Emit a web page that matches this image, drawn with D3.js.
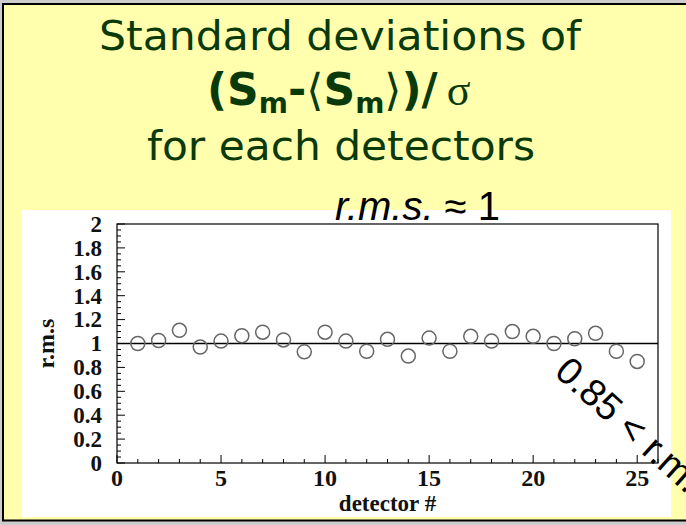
<!DOCTYPE html>
<html>
<head>
<meta charset="utf-8">
<script src="https://cdn.jsdelivr.net/npm/d3@7"></script>
<style>
  body { margin: 0; background: #cdcdcd; overflow: hidden; }
  svg { display: block; }
</style>
</head>
<body>
<svg width="686" height="525"></svg>
<script>
const detectors = d3.range(1, 26)
const rms = [1.00, 1.025, 1.11, 0.97, 1.02, 1.065, 1.095, 1.03, 0.93, 1.095,
  1.02, 0.935, 1.035, 0.895, 1.045, 0.935, 1.06, 1.02, 1.10, 1.06,
  1.00, 1.04, 1.085, 0.935, 0.85]
const xTicks = [0, 5, 10, 15, 20, 25]
const yTicks = [0, 0.2, 0.4, 0.6, 0.8, 1, 1.2, 1.4, 1.6, 1.8, 2]

const svg = d3.select('svg')
const green = '#0a3a0a'

// slide frame
svg.append('rect')
  .attr('x', 3).attr('y', 4)
  .attr('width', 700).attr('height', 516.5)
  .attr('fill', '#ffffae')
  .attr('stroke', '#000')
  .attr('stroke-width', 2)

// title lines
svg.append('text')
  .attr('x', 340).attr('y', 50)
  .attr('text-anchor', 'middle')
  .attr('font-family', 'DejaVu Sans')
  .attr('font-size', 40)
  .attr('textLength', 482)
  .attr('lengthAdjust', 'spacingAndGlyphs')
  .attr('fill', green)
  .text('Standard deviations of')

const t2 = svg.append('text')
  .attr('x', 207).attr('y', 105)
  .attr('font-family', 'DejaVu Sans')
  .attr('font-weight', 'bold')
  .attr('font-size', 44)
  .attr('fill', green)
t2.append('tspan').text('(S')
t2.append('tspan').attr('font-size', 28).attr('dy', 8).text('m')
t2.append('tspan').attr('dy', -8).text('-')
t2.append('tspan').attr('font-weight', 'normal').attr('font-family', 'DejaVu Serif').text('\u27E8')
t2.append('tspan').text('S')
t2.append('tspan').attr('font-size', 28).attr('dy', 8).text('m')
t2.append('tspan').attr('dy', -8).attr('font-weight', 'normal').attr('font-family', 'DejaVu Serif').text('\u27E9')
t2.append('tspan').text(')/')
t2.append('tspan').attr('font-weight', 'normal').attr('font-family', 'Liberation Serif').attr('dx', 9).text('\u03C3')

svg.append('text')
  .attr('x', 341).attr('y', 160)
  .attr('text-anchor', 'middle')
  .attr('font-family', 'DejaVu Sans')
  .attr('font-size', 40)
  .attr('textLength', 388)
  .attr('lengthAdjust', 'spacingAndGlyphs')
  .attr('fill', green)
  .text('for each detectors')

// white chart panel
svg.append('rect')
  .attr('x', 22).attr('y', 210)
  .attr('width', 649).attr('height', 307)
  .attr('fill', '#fff')

const margin = { top: 224, right: 28, bottom: 62, left: 117 }
const width = 686 - margin.left - margin.right
const height = 525 - margin.top - margin.bottom

const x = d3.scaleLinear().domain([0, 26]).range([margin.left, margin.left + width])
const y = d3.scaleLinear().domain([0, 2]).range([margin.top + height, margin.top])

const g = svg.append('g')

// ticks (ROOT style, inward)
const xMinor = d3.range(0, 27, 1)
g.selectAll('.xt').data(xMinor).enter().append('line')
  .attr('x1', d => x(d)).attr('x2', d => x(d))
  .attr('y1', y(0)).attr('y2', d => y(0) - (d % 5 === 0 ? 8 : 4))
  .attr('stroke', '#000').attr('stroke-width', 1)

const yMinor = d3.range(0, 2.001, 0.05)
g.selectAll('.yt').data(yMinor).enter().append('line')
  .attr('y1', d => y(d)).attr('y2', d => y(d))
  .attr('x1', x(0)).attr('x2', (d, i) => x(0) + (i % 4 === 0 ? 8 : 4))
  .attr('stroke', '#000').attr('stroke-width', 1)

// frame
g.append('rect')
  .attr('x', margin.left).attr('y', margin.top)
  .attr('width', width).attr('height', height)
  .attr('fill', 'none').attr('stroke', '#000').attr('stroke-width', 1.2)

// tick labels
g.selectAll('.xl').data(xTicks).enter().append('text')
  .attr('x', d => x(d)).attr('y', y(0) + 23)
  .attr('text-anchor', 'middle')
  .attr('font-family', 'Liberation Serif')
  .attr('font-weight', 'bold')
  .attr('font-size', 24)
  .attr('fill', '#111')
  .text(d => d)

g.selectAll('.yl').data(yTicks).enter().append('text')
  .attr('x', x(0) - 15).attr('y', d => y(d))
  .attr('dy', '0.34em')
  .attr('text-anchor', 'end')
  .attr('font-family', 'Liberation Serif')
  .attr('font-weight', 'bold')
  .attr('font-size', 23)
  .attr('fill', '#111')
  .text(d => d)

// axis titles
g.append('text')
  .attr('x', margin.left + width / 2).attr('y', 511)
  .attr('text-anchor', 'middle')
  .attr('font-family', 'Liberation Serif')
  .attr('font-weight', 'bold')
  .attr('font-size', 23)
  .attr('fill', '#111')
  .text('detector #')

g.append('text')
  .attr('transform', `translate(54,${margin.top + height / 2}) rotate(-90)`)
  .attr('text-anchor', 'middle')
  .attr('font-family', 'Liberation Serif')
  .attr('font-weight', 'bold')
  .attr('font-size', 24)
  .attr('fill', '#111')
  .text('r.m.s')

// reference line at 1
g.append('line')
  .attr('x1', x(0)).attr('x2', x(26))
  .attr('y1', y(1)).attr('y2', y(1))
  .attr('stroke', '#000').attr('stroke-width', 1.3)

// markers
g.selectAll('circle').data(detectors).enter().append('circle')
  .attr('cx', d => x(d))
  .attr('cy', (d, i) => y(rms[i]))
  .attr('r', 7)
  .attr('fill', 'none')
  .attr('stroke', '#666')
  .attr('stroke-width', 1.5)

// annotations
const ann = svg.append('text')
  .attr('x', 335).attr('y', 220)
  .attr('font-family', 'Liberation Sans')
  .attr('font-size', 40)
  .attr('fill', '#000')
ann.append('tspan').attr('font-style', 'italic').text('r.m.s.')
ann.append('tspan').text(' \u2248 1')

svg.append('text')
  .attr('transform', 'translate(553,374) rotate(42)')
  .attr('font-family', 'Liberation Sans')
  .attr('font-size', 38)
  .attr('fill', '#000')
  .text('0.85 < r.m.s. < 1.15')
</script>
</body>
</html>
